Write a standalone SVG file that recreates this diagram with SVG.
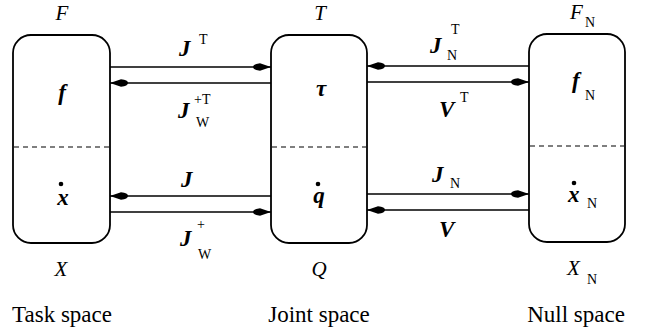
<svg xmlns="http://www.w3.org/2000/svg" width="659" height="335" viewBox="0 0 659 335">
<defs>
<marker id="ah" viewBox="0 0 18 8" refX="18" refY="4" markerWidth="18" markerHeight="8" markerUnits="userSpaceOnUse" orient="auto">
<path d="M18,4 L7,0.3 Q0,1 0,4 Q0,7 7,7.7 Z" fill="#000"/>
</marker>
</defs>
<g id="task">
<rect fill="#fff" stroke="#000" stroke-width="1.8" x="13" y="35" width="97" height="208" rx="18"/>
<line stroke="#000" stroke-width="1.2" stroke-dasharray="5 4" x1="14" y1="147" x2="109" y2="147"/>
<text font-family="Liberation Serif" font-style="italic" font-size="21" text-anchor="middle" x="62" y="20">F</text>
<text font-family="Liberation Serif" font-style="italic" font-weight="bold" font-size="23" text-anchor="middle" x="62" y="100">f</text>
<circle cx="61" cy="184" r="2.3"/>
<text font-family="Liberation Serif" font-style="italic" font-weight="bold" font-size="23" text-anchor="middle" x="63" y="205">x</text>
<text font-family="Liberation Serif" font-style="italic" font-size="21" text-anchor="middle" x="61" y="276">X</text>
<text font-family="Liberation Serif" font-size="23" text-anchor="middle" x="62" y="322">Task space</text>
</g>
<g id="joint">
<rect fill="#fff" stroke="#000" stroke-width="1.8" x="271" y="35" width="96" height="208" rx="18"/>
<line stroke="#000" stroke-width="1.2" stroke-dasharray="5 4" x1="272" y1="147" x2="366" y2="147"/>
<text font-family="Liberation Serif" font-style="italic" font-size="21" text-anchor="middle" x="320" y="20">T</text>
<text font-family="Liberation Serif" font-style="italic" font-weight="bold" font-size="23" text-anchor="middle" x="321" y="96">τ</text>
<circle cx="318" cy="184" r="2.3"/>
<text font-family="Liberation Serif" font-style="italic" font-weight="bold" font-size="23" text-anchor="middle" x="319" y="203">q</text>
<text font-family="Liberation Serif" font-style="italic" font-size="21" text-anchor="middle" x="319" y="276">Q</text>
<text font-family="Liberation Serif" font-size="23" text-anchor="middle" x="319" y="322">Joint space</text>
</g>
<g id="null">
<rect fill="#fff" stroke="#000" stroke-width="1.8" x="529" y="34" width="96" height="208" rx="18"/>
<line stroke="#000" stroke-width="1.2" stroke-dasharray="5 4" x1="530" y1="146" x2="624" y2="146"/>
<text font-family="Liberation Serif" font-style="italic" font-size="21" x="570" y="19">F</text><text font-family="Liberation Serif" font-size="14" x="585" y="27">N</text>
<text font-family="Liberation Serif" font-style="italic" font-weight="bold" font-size="23" x="572" y="88">f</text><text font-family="Liberation Serif" font-size="14" x="585" y="100">N</text>
<circle cx="574" cy="183" r="2.3"/>
<text font-family="Liberation Serif" font-style="italic" font-weight="bold" font-size="23" x="568" y="202">x</text><text font-family="Liberation Serif" font-size="14" x="587" y="208">N</text>
<text font-family="Liberation Serif" font-style="italic" font-size="21" x="567" y="275">X</text><text font-family="Liberation Serif" font-size="14" x="587" y="284">N</text>
<text font-family="Liberation Serif" font-size="23" text-anchor="middle" x="576" y="322">Null space</text>
</g>
<g id="connectors" stroke="#000" stroke-width="1.5" fill="none" marker-end="url(#ah)">
<line x1="110" y1="67" x2="271" y2="67" marker-end="url(#ah)"/>
<line x1="271" y1="83" x2="110" y2="83" marker-end="url(#ah)"/>
<line x1="529" y1="66" x2="367" y2="66" marker-end="url(#ah)"/>
<line x1="367" y1="82" x2="529" y2="82" marker-end="url(#ah)"/>
<line x1="271" y1="196" x2="110" y2="196" marker-end="url(#ah)"/>
<line x1="110" y1="212" x2="271" y2="212" marker-end="url(#ah)"/>
<line x1="367" y1="194" x2="529" y2="194" marker-end="url(#ah)"/>
<line x1="529" y1="210" x2="367" y2="210" marker-end="url(#ah)"/>
</g>
<g id="labels">
<text font-family="Liberation Serif" font-style="italic" font-weight="bold" font-size="23" x="179" y="56">J</text><text font-family="Liberation Serif" font-size="14" x="199" y="44">T</text>
<text font-family="Liberation Serif" font-style="italic" font-weight="bold" font-size="23" x="178" y="118">J</text><text font-family="Liberation Serif" font-size="14" x="194" y="104">+T</text><text font-family="Liberation Serif" font-size="14" x="196" y="127">W</text>
<text font-family="Liberation Serif" font-style="italic" font-weight="bold" font-size="23" x="430" y="53">J</text><text font-family="Liberation Serif" font-size="14" x="451" y="34">T</text><text font-family="Liberation Serif" font-size="14" x="447" y="60">N</text>
<text font-family="Liberation Serif" font-style="italic" font-weight="bold" font-size="23" x="439" y="117">V</text><text font-family="Liberation Serif" font-size="14" x="460" y="102">T</text>
<text font-family="Liberation Serif" font-style="italic" font-weight="bold" font-size="23" x="181" y="187">J</text>
<text font-family="Liberation Serif" font-style="italic" font-weight="bold" font-size="23" x="180" y="246">J</text><text font-family="Liberation Serif" font-size="14" x="197" y="229">+</text><text font-family="Liberation Serif" font-size="14" x="198" y="259">W</text>
<text font-family="Liberation Serif" font-style="italic" font-weight="bold" font-size="23" x="432" y="182">J</text><text font-family="Liberation Serif" font-size="14" x="450" y="188">N</text>
<text font-family="Liberation Serif" font-style="italic" font-weight="bold" font-size="23" x="439" y="237">V</text>
</g>
</svg>
